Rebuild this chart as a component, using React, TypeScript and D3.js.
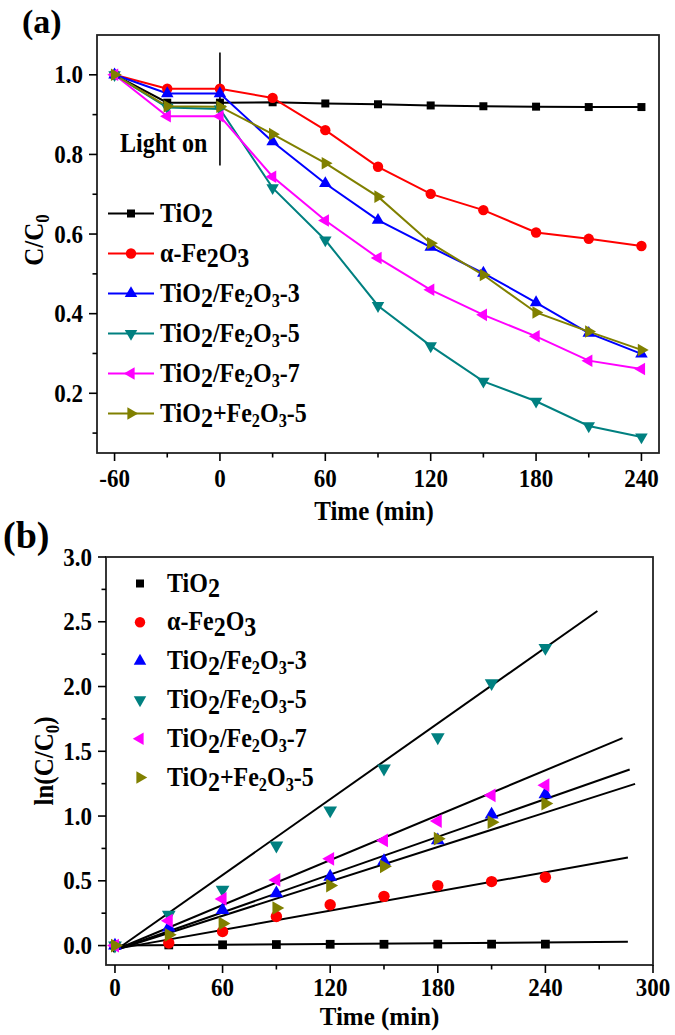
import React from 'react';
import * as d3 from 'd3';

// ---------- data ----------
const seriesNames = ['TiO~2', 'α-Fe~2O~3', 'TiO~2/Fe_2O_3-3', 'TiO~2/Fe_2O_3-5', 'TiO~2/Fe_2O_3-7', 'TiO~2+Fe_2O_3-5'];
const seriesColors = ['#000000', '#ff0000', '#0000ff', '#008080', '#ff00ff', '#808000'];
const seriesSymbols = ['square', 'circle', 'up', 'down', 'left', 'right'];

const timesA = [-60, -30, 0, 30, 60, 90, 120, 150, 180, 210, 240];
const tio2A = [1.0, 0.93, 0.93, 0.931, 0.928, 0.926, 0.923, 0.921, 0.92, 0.919, 0.919];
const fe2o3A = [1.0, 0.965, 0.965, 0.942, 0.861, 0.769, 0.701, 0.66, 0.604, 0.588, 0.57];
const tf3A = [1.0, 0.953, 0.953, 0.832, 0.727, 0.635, 0.567, 0.502, 0.428, 0.351, 0.299];
const tf5A = [1.0, 0.918, 0.914, 0.716, 0.585, 0.42, 0.319, 0.23, 0.18, 0.118, 0.09];
const tf7A = [1.0, 0.896, 0.896, 0.744, 0.634, 0.54, 0.46, 0.397, 0.343, 0.282, 0.261];
const tpf5A = [1.0, 0.921, 0.92, 0.851, 0.778, 0.694, 0.577, 0.497, 0.403, 0.355, 0.309];

const timesB = [0, 30, 60, 90, 120, 150, 180, 210, 240];
const tio2B = [0, 0.005, 0.006, 0.008, 0.01, 0.01, 0.011, 0.011, 0.011];
const fe2o3B = [0, 0.02, 0.108, 0.225, 0.315, 0.38, 0.463, 0.494, 0.527];
const tf3B = [0, 0.14, 0.274, 0.403, 0.532, 0.651, 0.812, 1.011, 1.168];
const tf5B = [0, 0.238, 0.432, 0.773, 1.044, 1.367, 1.608, 2.026, 2.298];
const tf7B = [0, 0.192, 0.36, 0.507, 0.67, 0.812, 0.961, 1.16, 1.238];
const tpf5B = [0, 0.083, 0.171, 0.29, 0.463, 0.612, 0.825, 0.953, 1.096];

// linear fits (intercept, slope, start/end time)
const fitIntercepts = [0.0, -0.027, -0.035, -0.04, -0.034, -0.036];
const fitSlopes = [0.0001, 0.00247, 0.00486, 0.00975, 0.00578, 0.00443];
const fitStart = -1;
const fitEnds = [286, 286, 287, 269, 283, 290];

const xTicksA = [-60, 0, 60, 120, 180, 240];
const xMinorA = [-30, 30, 90, 150, 210];
const yTicksA = [0.2, 0.4, 0.6, 0.8, 1.0];
const yMinorA = [0.1, 0.3, 0.5, 0.7, 0.9];
const xTicksB = [0, 60, 120, 180, 240, 300];
const xMinorB = [30, 90, 150, 210, 270];
const yTicksB = [0, 0.5, 1.0, 1.5, 2.0, 2.5, 3.0];
const yMinorB = [0.25, 0.75, 1.25, 1.75, 2.25, 2.75];

const seriesA = [tio2A, fe2o3A, tf3A, tf5A, tf7A, tpf5A];
const seriesB = [tio2B, fe2o3B, tf3B, tf5B, tf7B, tpf5B];

// ---------- layout ----------
const W = 675, H = 1035;
const FONT = "'Liberation Serif', 'Times New Roman', serif";
const SY = 1.12;

const xA = d3.scaleLinear().domain([-70, 250]).range([97, 659]);
const yA = d3.scaleLinear().domain([0.05, 1.1]).range([453, 35]);
const xB = d3.scaleLinear().domain([-5, 300]).range([106, 653]);
const yB = d3.scaleLinear().domain([-0.15, 3.0]).range([965, 557]);

const symArea: Record<string, number> = { square: 64, circle: 85, up: 68, down: 68, left: 68, right: 68 };
const symRot: Record<string, number> = { square: 0, circle: 0, up: 0, down: 180, left: -90, right: 90 };
function symPath(kind: string, scale = 1) {
  const t = kind === 'square' ? d3.symbolSquare : kind === 'circle' ? d3.symbolCircle : d3.symbolTriangle;
  return d3.symbol().type(t).size(symArea[kind] * scale)() as string;
}

function Marker({ kind, x, y, color, scale = 1 }: any) {
  return <path d={symPath(kind, scale)} fill={color} transform={`translate(${x},${y}) rotate(${symRot[kind]})`} />;
}

// label markup: ~x = full-size lowered char, _x = small subscript char
function Label({ text, x, y, size, anchor = 'start', rot = 0, sy = SY }: any) {
  const parts: any[] = [];
  let cur = 0;
  let buf = '';
  const flush = () => {
    if (buf) {
      parts.push({ t: buf, off: 0, small: false });
      buf = '';
    }
  };
  for (let i = 0; i < text.length; i++) {
    const c = text[i];
    if ((c === '~' || c === '_') && i + 1 < text.length) {
      flush();
      parts.push({ t: text[i + 1], off: c === '~' ? size * 0.22 : size * 0.2, small: c === '_' });
      i++;
    } else buf += c;
  }
  flush();
  return (
    <text x={0} y={0} fontFamily={FONT} fontWeight="bold" fontSize={size} textAnchor={anchor}
      transform={`translate(${x},${y}) rotate(${rot}) scale(1,${sy})`} fill="#000">
      {parts.map((p, i) => {
        const dy = p.off - cur;
        cur = p.off;
        return (
          <tspan key={i} dy={dy} fontSize={p.small ? size * 0.68 : size}>
            {p.t}
          </tspan>
        );
      })}
    </text>
  );
}

function Axes({ xs, ys, xt, xm, yt, ym, xfmt, yfmt, x0, y0 }: any) {
  const [l, r] = xs.range();
  const [b, t] = ys.range();
  return (
    <g>
      <rect x={l} y={t} width={r - l} height={b - t} fill="none" stroke="#222" strokeWidth={1.8} />
      {xt.map((v: number) => (
        <g key={'xt' + v}>
          <line x1={xs(v)} x2={xs(v)} y1={b} y2={b + 8} stroke="#000" strokeWidth={1.6} />
          <Label text={xfmt(v)} x={xs(v)} y={b + y0} size={23} anchor="middle" />
        </g>
      ))}
      {xm.map((v: number) => (
        <line key={'xm' + v} x1={xs(v)} x2={xs(v)} y1={b} y2={b + 4.5} stroke="#000" strokeWidth={1.6} />
      ))}
      {yt.map((v: number) => (
        <g key={'yt' + v}>
          <line x1={l - 8} x2={l} y1={ys(v)} y2={ys(v)} stroke="#000" strokeWidth={1.6} />
          <Label text={yfmt(v)} x={l - x0} y={ys(v) + 8.5} size={23} anchor="end" />
        </g>
      ))}
      {ym.map((v: number) => (
        <line key={'ym' + v} x1={l - 4.5} x2={l} y1={ys(v)} y2={ys(v)} stroke="#000" strokeWidth={1.6} />
      ))}
    </g>
  );
}

export default function App() {
  const lineA = d3
    .line<[number, number]>()
    .x((d) => xA(d[0]))
    .y((d) => yA(d[1]));
  const lineB = d3
    .line<[number, number]>()
    .x((d) => xB(d[0]))
    .y((d) => yB(d[1]));

  const legA0 = 213.5, legAStep = 40;
  const legB0 = 583.5, legBStep = 38.8;

  return (
    <svg width={W} height={H} style={{ position: 'absolute', left: 0, top: 0, background: '#fff' }}>
      <rect width={W} height={H} fill="#fff" />

      {/* ---------- panel (a) ---------- */}
      <Label text="(a)" x={22} y={33} size={34} sy={1.0} />
      <Axes xs={xA} ys={yA} xt={xTicksA} xm={xMinorA} yt={yTicksA} ym={yMinorA}
        xfmt={(v: number) => String(v)} yfmt={(v: number) => v.toFixed(1)} x0={14} y0={34} />
      <Label text="Time (min)" x={(xA.range()[0] + xA.range()[1]) / 2 - 4} y={520} size={25} anchor="middle" />
      <Label text="C/C_0" x={43} y={240} size={25} anchor="middle" rot={-90} />

      {/* light on marker */}
      <line x1={xA(0)} x2={xA(0)} y1={52.5} y2={165.5} stroke="#000" strokeWidth={1.6} />
      <Label text="Light on" x={120} y={152} size={24} />

      {seriesA.map((s, i) => (
        <path key={'la' + i} d={lineA(timesA.map((t, j) => [t, s[j]]) as any) as string} fill="none"
          stroke={seriesColors[i]} strokeWidth={2} />
      ))}
      {seriesA.map((s, i) => (
        <g key={'ma' + i}>
          {timesA.map((t, j) => (
            <Marker key={j} kind={seriesSymbols[i]} x={xA(t)} y={yA(s[j])} color={seriesColors[i]} />
          ))}
        </g>
      ))}

      {seriesNames.map((n, i) => {
        const y = legA0 + i * legAStep;
        return (
          <g key={'lga' + i}>
            <line x1={108} x2={154} y1={y} y2={y} stroke={seriesColors[i]} strokeWidth={2} />
            <Marker kind={seriesSymbols[i]} x={131} y={y} color={seriesColors[i]} />
            <Label text={n} x={160} y={y + 8} size={24} />
          </g>
        );
      })}

      {/* ---------- panel (b) ---------- */}
      <Label text="(b)" x={3} y={548} size={38} sy={1.0} />
      <Axes xs={xB} ys={yB} xt={xTicksB} xm={xMinorB} yt={yTicksB} ym={yMinorB}
        xfmt={(v: number) => String(v)} yfmt={(v: number) => v.toFixed(1)} x0={14} y0={31} />
      <Label text="Time (min)" x={(xB.range()[0] + xB.range()[1]) / 2} y={1025} size={25} anchor="middle" sy={1.0} />
      <Label text="ln(C/C_0)" x={53} y={761} size={25} anchor="middle" rot={-90} />

      {fitIntercepts.map((a, i) => (
        <path key={'fb' + i}
          d={lineB([fitStart, fitEnds[i]].map((t) => [t, a + fitSlopes[i] * t]) as any) as string}
          fill="none" stroke="#000" strokeWidth={2} />
      ))}
      {seriesB.map((s, i) => (
        <g key={'mb' + i}>
          {timesB.map((t, j) => (
            <Marker key={j} kind={seriesSymbols[i]} x={xB(t)} y={yB(s[j])} color={seriesColors[i]} scale={1.2} />
          ))}
        </g>
      ))}

      {seriesNames.map((n, i) => {
        const y = legB0 + i * legBStep;
        return (
          <g key={'lgb' + i}>
            <Marker kind={seriesSymbols[i]} x={140} y={y} color={seriesColors[i]} scale={1.0} />
            <Label text={n} x={167} y={y + 8} size={24} />
          </g>
        );
      })}
    </svg>
  );
}
